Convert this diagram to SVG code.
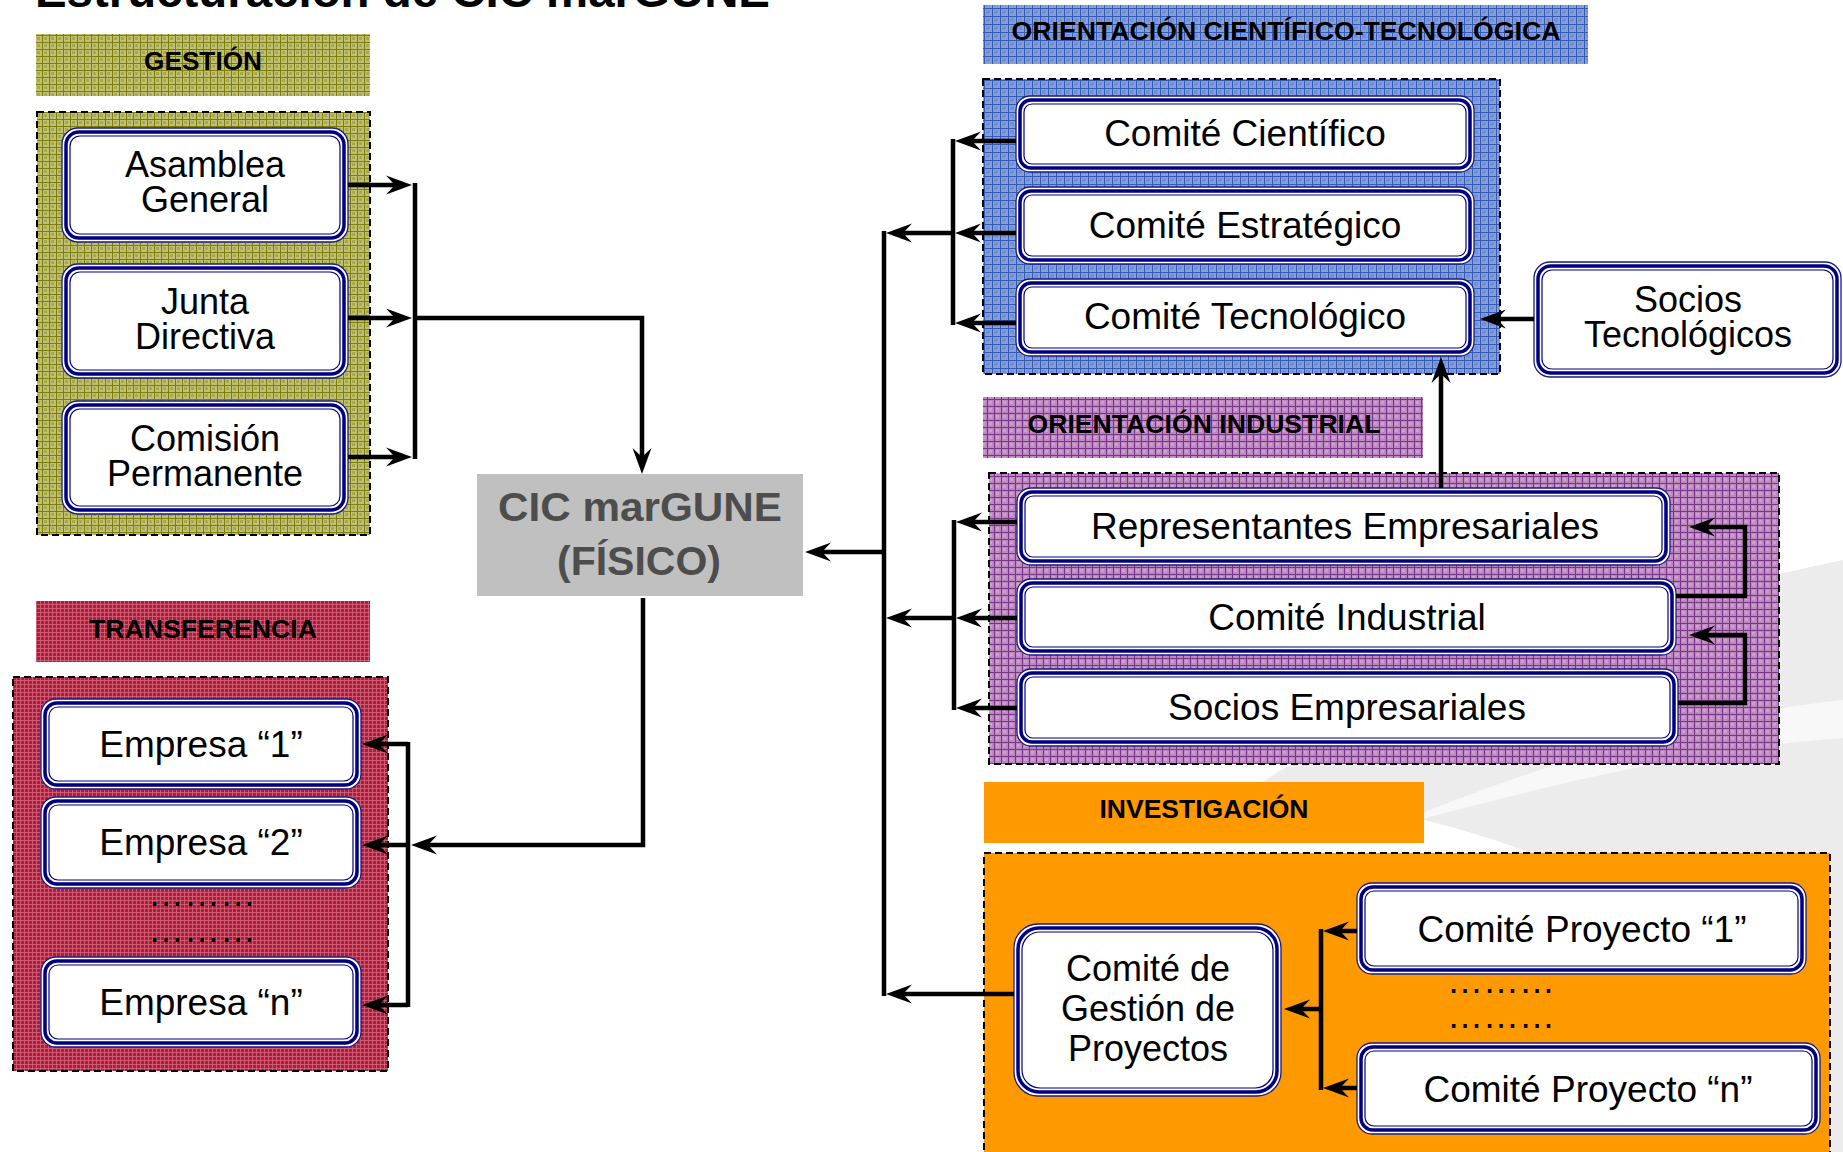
<svg xmlns="http://www.w3.org/2000/svg" width="1843" height="1152" viewBox="0 0 1843 1152">
<style>
text{font-family:"Liberation Sans",Arial,sans-serif;fill:#000}
.t{font-size:36px;text-anchor:middle}
.s{font-size:37px;text-anchor:middle}
.h{font-size:26px;font-weight:bold;text-anchor:middle}
.ttl{font-size:47px;font-weight:bold}
.cic{font-size:41px;font-weight:bold;fill:#4d4d4d;text-anchor:middle}
.dots{font-size:36px;text-anchor:middle}
.panel{stroke:#000;stroke-width:2;stroke-dasharray:7 4}
.b1{fill:#fff;stroke:#1a1a80;stroke-width:1.3}
.b2{fill:none;stroke:#000080;stroke-width:3.5}
.b3{fill:none;stroke:#000080;stroke-width:1.2}
.c{fill:none;stroke:#000;stroke-width:4.5;stroke-linejoin:miter}
.a{marker-end:url(#arr)}
</style>
<defs>
<marker id="arr" markerUnits="userSpaceOnUse" viewBox="-15 -10 30 20" markerWidth="30" markerHeight="20" refX="0" refY="0" orient="auto" overflow="visible">
<path d="M12,0 L-14,-9.5 L-5,0 L-14,9.5 Z" fill="#000"/>
</marker>
<pattern id="pOl" patternUnits="userSpaceOnUse" width="7" height="7">
<rect width="7" height="7" fill="#c0c072"/>
<rect x="2" y="2" width="3" height="3" fill="#a8a850"/>
<path d="M0,0.5H7M0.5,0V7" stroke="#7d7d0c" stroke-width="1"/>
</pattern>
<pattern id="pBl" patternUnits="userSpaceOnUse" width="8" height="8">
<rect width="8" height="8" fill="#86a0da"/>
<rect x="2" y="2" width="4" height="4" fill="#7591d0"/>
<path d="M0,0.5H8M0.5,0V8" stroke="#3459b8" stroke-width="1"/>
</pattern>
<pattern id="pCr" patternUnits="userSpaceOnUse" width="4" height="4">
<rect width="4" height="4" fill="#b01d3b"/>
<path d="M0,0.5H4M0.5,0V4" stroke="#d4667c" stroke-width="0.8"/>
</pattern>
<pattern id="pPu" patternUnits="userSpaceOnUse" width="7" height="7">
<rect width="7" height="7" fill="#bd88c0"/>
<rect x="2" y="2" width="3" height="3" fill="#cc9fce"/>
<path d="M0,0.5H7M0.5,0V7" stroke="#773687" stroke-width="1"/>
</pattern>
</defs>
<rect width="1843" height="1152" fill="#fff"/>
<g id="watermark">
<path d="M1250,790 C1450,660 1650,600 1843,560 L1843,1152 L1780,1152 C1770,950 1600,830 1250,790 Z" fill="#ececec"/>
<path d="M1380,830 C1550,760 1700,715 1843,700 L1843,738 C1700,748 1560,782 1380,830 Z" fill="#f8f8f8"/>
</g>
<text id="title" class="ttl" x="35" y="7" textLength="735" lengthAdjust="spacingAndGlyphs">Estructuración de CIC marGUNE</text>

<g id="hdr-gestion"><rect x="36" y="34" width="334" height="62" fill="url(#pOl)"/><text class="h" x="203" y="70" textLength="118" lengthAdjust="spacingAndGlyphs">GESTIÓN</text></g>
<g id="panel-gestion"><rect class="panel" x="37" y="112" width="333" height="423" fill="url(#pOl)"/></g>

<g id="hdr-transferencia"><rect x="36" y="601" width="334" height="61" fill="url(#pCr)"/><text class="h" x="203" y="638" textLength="228" lengthAdjust="spacingAndGlyphs">TRANSFERENCIA</text></g>
<g id="panel-transferencia"><rect class="panel" x="13" y="677" width="375" height="394" fill="url(#pCr)"/></g>

<g id="hdr-cyt"><rect x="983" y="5" width="605" height="59" fill="url(#pBl)"/><text class="h" x="1286" y="40" textLength="549" lengthAdjust="spacingAndGlyphs">ORIENTACIÓN CIENTÍFICO-TECNOLÓGICA</text></g>
<g id="panel-cyt"><rect class="panel" x="983" y="79" width="517" height="295" fill="url(#pBl)"/></g>

<g id="hdr-industrial"><rect x="983" y="397" width="440" height="61" fill="url(#pPu)"/><text class="h" x="1204" y="433" textLength="353" lengthAdjust="spacingAndGlyphs">ORIENTACIÓN INDUSTRIAL</text></g>
<g id="panel-industrial"><rect class="panel" x="989" y="473" width="790" height="291" fill="url(#pPu)"/></g>

<g id="hdr-investigacion"><rect x="984" y="782" width="440" height="61" fill="#ff9900"/><text class="h" x="1204" y="818" textLength="209" lengthAdjust="spacingAndGlyphs">INVESTIGACIÓN</text></g>
<g id="panel-investigacion"><rect class="panel" x="984" y="853" width="846" height="320" fill="#ff9900"/></g>

<g id="n-asamblea">
<rect class="b1" x="62" y="128" width="286" height="114" rx="16"/><rect class="b2" x="66" y="132" width="278" height="106" rx="13"/><rect class="b3" x="70" y="136" width="270" height="98" rx="10"/>
<text class="t" x="205" y="177">Asamblea<tspan x="205" dy="35">General</tspan></text></g>
<g id="n-junta">
<rect class="b1" x="62" y="264" width="286" height="114" rx="16"/><rect class="b2" x="66" y="268" width="278" height="106" rx="13"/><rect class="b3" x="70" y="272" width="270" height="98" rx="10"/>
<text class="t" x="205" y="314">Junta<tspan x="205" dy="35">Directiva</tspan></text></g>
<g id="n-comision">
<rect class="b1" x="62" y="401" width="286" height="113" rx="16"/><rect class="b2" x="66" y="405" width="278" height="105" rx="13"/><rect class="b3" x="70" y="409" width="270" height="97" rx="10"/>
<text class="t" x="205" y="451">Comisión<tspan x="205" dy="35">Permanente</tspan></text></g>

<g id="n-cic">
<rect x="477" y="474" width="326" height="122" fill="#c0c0c0"/>
<text class="cic" x="640" y="521"><tspan textLength="284" lengthAdjust="spacingAndGlyphs">CIC marGUNE</tspan><tspan x="639" dy="54">(FÍSICO)</tspan></text></g>

<g id="n-empresa1">
<rect class="b1" x="41" y="699" width="320" height="90" rx="15"/><rect class="b2" x="45" y="703" width="312" height="82" rx="12"/><rect class="b3" x="49" y="707" width="304" height="74" rx="9"/>
<text class="s" x="201" y="757">Empresa “1”</text></g>
<g id="n-empresa2">
<rect class="b1" x="41" y="797" width="320" height="91" rx="15"/><rect class="b2" x="45" y="801" width="312" height="83" rx="12"/><rect class="b3" x="49" y="805" width="304" height="75" rx="9"/>
<text class="s" x="201" y="855">Empresa “2”</text></g>
<text class="dots" x="202" y="906">………</text>
<text class="dots" x="202" y="942">………</text>
<g id="n-empresan">
<rect class="b1" x="41" y="957" width="320" height="90" rx="15"/><rect class="b2" x="45" y="961" width="312" height="82" rx="12"/><rect class="b3" x="49" y="965" width="304" height="74" rx="9"/>
<text class="s" x="201" y="1015">Empresa “n”</text></g>

<g id="n-cientifico">
<rect class="b1" x="1016" y="96" width="458" height="76" rx="14"/><rect class="b2" x="1020" y="100" width="450" height="68" rx="11"/><rect class="b3" x="1024" y="104" width="442" height="60" rx="8"/>
<text class="s" x="1245" y="146">Comité Científico</text></g>
<g id="n-estrategico">
<rect class="b1" x="1016" y="187" width="458" height="77" rx="14"/><rect class="b2" x="1020" y="191" width="450" height="69" rx="11"/><rect class="b3" x="1024" y="195" width="442" height="61" rx="8"/>
<text class="s" x="1245" y="238">Comité Estratégico</text></g>
<g id="n-tecnologico">
<rect class="b1" x="1016" y="279" width="458" height="77" rx="14"/><rect class="b2" x="1020" y="283" width="450" height="69" rx="11"/><rect class="b3" x="1024" y="287" width="442" height="61" rx="8"/>
<text class="s" x="1245" y="329">Comité Tecnológico</text></g>
<g id="n-sociostec">
<rect class="b1" x="1534" y="262" width="307" height="115" rx="16"/><rect class="b2" x="1538" y="266" width="299" height="107" rx="13"/><rect class="b3" x="1542" y="270" width="291" height="99" rx="10"/>
<text class="t" x="1688" y="312">Socios<tspan x="1688" dy="35">Tecnológicos</tspan></text></g>

<g id="n-representantes">
<rect class="b1" x="1017" y="488" width="653" height="77" rx="14"/><rect class="b2" x="1021" y="492" width="645" height="69" rx="11"/><rect class="b3" x="1025" y="496" width="637" height="61" rx="8"/>
<text class="s" x="1345" y="539">Representantes Empresariales</text></g>
<g id="n-industrial">
<rect class="b1" x="1017" y="579" width="659" height="76" rx="14"/><rect class="b2" x="1021" y="583" width="651" height="68" rx="11"/><rect class="b3" x="1025" y="587" width="643" height="60" rx="8"/>
<text class="s" x="1347" y="630">Comité Industrial</text></g>
<g id="n-sociosemp">
<rect class="b1" x="1017" y="669" width="661" height="77" rx="14"/><rect class="b2" x="1021" y="673" width="653" height="69" rx="11"/><rect class="b3" x="1025" y="677" width="645" height="61" rx="8"/>
<text class="s" x="1347" y="720">Socios Empresariales</text></g>

<g id="n-gestionproy">
<rect class="b1" x="1014" y="924" width="267" height="172" rx="24"/><rect class="b2" x="1018" y="928" width="259" height="164" rx="21"/><rect class="b3" x="1022" y="932" width="251" height="156" rx="18"/>
<text class="t" x="1148" y="981">Comité de<tspan x="1148" dy="40">Gestión de</tspan><tspan x="1148" dy="40">Proyectos</tspan></text></g>
<g id="n-proy1">
<rect class="b1" x="1357" y="883" width="449" height="91" rx="15"/><rect class="b2" x="1361" y="887" width="441" height="83" rx="12"/><rect class="b3" x="1365" y="891" width="433" height="75" rx="9"/>
<text class="s" x="1582" y="942">Comité Proyecto “1”</text></g>
<text class="dots" x="1501" y="993">………</text>
<text class="dots" x="1501" y="1028">………</text>
<g id="n-proyn">
<rect class="b1" x="1357" y="1043" width="463" height="91" rx="15"/><rect class="b2" x="1361" y="1047" width="455" height="83" rx="12"/><rect class="b3" x="1365" y="1051" width="447" height="75" rx="9"/>
<text class="s" x="1588" y="1102">Comité Proyecto “n”</text></g>

<g id="connectors">
<path class="c a" d="M348,185H400"/>
<path class="c a" d="M348,318H400"/>
<path class="c a" d="M348,457H400"/>
<path class="c" d="M415,183V459"/>
<path class="c a" d="M415,318H642V462"/>
<path class="c a" d="M643,598V845H423"/>
<path class="c" d="M408,742V1007"/>
<path class="c a" d="M408,744H374"/>
<path class="c a" d="M408,845H374"/>
<path class="c a" d="M408,1005H374"/>
<path class="c" d="M884,231V996"/>
<path class="c a" d="M884,552H817"/>
<path class="c" d="M953,139V325"/>
<path class="c a" d="M1016,141H967"/>
<path class="c a" d="M1016,233H967"/>
<path class="c a" d="M1016,323H967"/>
<path class="c a" d="M953,233H898"/>
<path class="c a" d="M1534,319H1492"/>
<path class="c" d="M954,520V710"/>
<path class="c a" d="M1017,522H968"/>
<path class="c a" d="M1017,618H968"/>
<path class="c a" d="M1017,708H968"/>
<path class="c a" d="M954,618H898"/>
<path class="c a" d="M1676,596H1745V527H1701"/>
<path class="c a" d="M1678,703H1745V635H1701"/>
<path class="c a" d="M1441,488V369"/>
<path class="c" d="M1321,929V1090"/>
<path class="c a" d="M1357,931H1335"/>
<path class="c a" d="M1357,1088H1335"/>
<path class="c a" d="M1321,1009H1296"/>
<path class="c a" d="M1014,994H898"/>
</g>
</svg>
